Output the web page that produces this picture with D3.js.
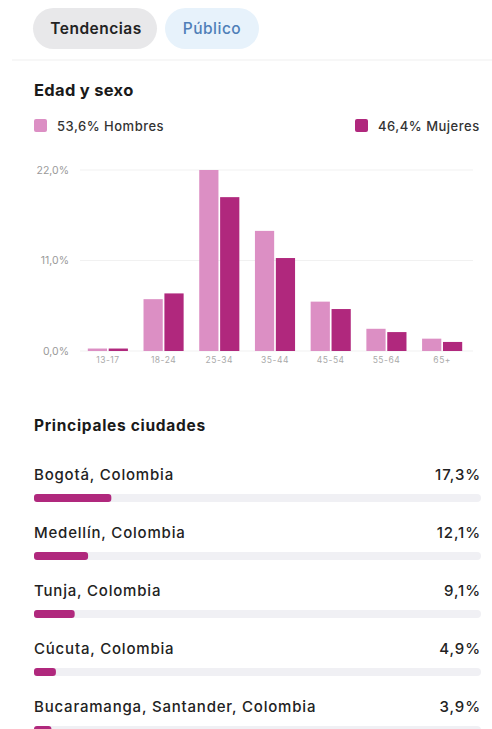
<!DOCTYPE html>
<html>
<head>
<meta charset="utf-8">
<script src="https://cdn.jsdelivr.net/npm/d3@7"></script>
<style>
  body { margin: 0; background: #fff; }
  text { font-family: Inter, "Noto Sans", sans-serif; }
</style>
</head>
<body>
<div id="page"></div>
<script>
// data
var ageGroups = ["13-17", "18-24", "25-34", "35-44", "45-54", "55-64", "65+"];
var hombres = [0.3, 6.3, 22.0, 14.6, 6.0, 2.7, 1.5];
var mujeres = [0.3, 7.0, 18.7, 11.3, 5.1, 2.3, 1.1];
var yTicks = [0, 11, 22];
var legendLabels = ["53,6% Hombres", "46,4% Mujeres"];
var cities = ["Bogotá, Colombia", "Medellín, Colombia", "Tunja, Colombia", "Cúcuta, Colombia", "Bucaramanga, Santander, Colombia"];
var cityShare = [17.3, 12.1, 9.1, 4.9, 3.9];
var tabs = ["Tendencias", "Público"];

var colH = "#dc8fc4", colM = "#b0287d";
var fmt = function(v) { return d3.format(".1f")(v).replace(".", ",") + "%"; };

var W = 492, H = 729;
var svg = d3.select("#page").append("svg").attr("width", W).attr("height", H);

// tabs
var tabG = svg.append("g");
tabG.append("rect").attr("x", 33).attr("y", 8).attr("width", 124).attr("height", 41).attr("rx", 20.5).attr("fill", "#e8e8ea");
tabG.append("text").attr("x", 96).attr("y", 34).attr("text-anchor", "middle").attr("letter-spacing", 0.5)
	.attr("font-size", 15.5).attr("font-weight", 600).attr("fill", "#222").text(tabs[0]);
tabG.append("rect").attr("x", 165).attr("y", 8).attr("width", 94).attr("height", 41).attr("rx", 20.5).attr("fill", "#e7f2fb");
tabG.append("text").attr("x", 212).attr("y", 34).attr("text-anchor", "middle").attr("letter-spacing", 0.5)
	.attr("font-size", 15.5).attr("font-weight", 500).attr("fill", "#4f7fb8").text(tabs[1]);
svg.append("line").attr("x1", 12).attr("x2", W).attr("y1", 60).attr("y2", 60).attr("stroke", "#efefef");

// title + legend
svg.append("text").attr("x", 34).attr("y", 96).attr("font-size", 16.5).attr("letter-spacing", 0.3)
	.attr("font-weight", 700).attr("fill", "#1a1a1a").text("Edad y sexo");
svg.append("rect").attr("x", 34).attr("y", 119).attr("width", 13).attr("height", 13).attr("rx", 2).attr("fill", colH);
svg.append("text").attr("x", 57).attr("y", 131).attr("font-size", 13).attr("letter-spacing", 0.5)
	.attr("font-weight", 500).attr("fill", "#333").text(legendLabels[0]);
svg.append("rect").attr("x", 355).attr("y", 119).attr("width", 13).attr("height", 13).attr("rx", 2).attr("fill", colM);
svg.append("text").attr("x", 378).attr("y", 131).attr("font-size", 13).attr("letter-spacing", 0.5)
	.attr("font-weight", 500).attr("fill", "#333").text(legendLabels[1]);

// bar chart
var x = d3.scaleBand().domain(ageGroups).range([80, 470]).paddingInner(0.28).paddingOuter(0.14);
var xs = d3.scaleBand().domain(["h", "m"]).range([0, x.bandwidth()]).paddingInner(0.08);
var y = d3.scaleLinear().domain([0, 22]).range([351, 170]);

var grid = svg.append("g");
grid.selectAll("line").data(yTicks).enter().append("line")
	.attr("x1", 80).attr("x2", 473)
	.attr("y1", function(d) { return y(d); }).attr("y2", function(d) { return y(d); })
	.attr("stroke", "#f1f1f1");

var yAxis = svg.append("g").attr("transform", "translate(69,0)")
	.call(d3.axisLeft(y).tickValues(yTicks).tickSize(0).tickPadding(0).tickFormat(fmt));
yAxis.select(".domain").remove();
yAxis.selectAll("text").attr("font-size", 10.5).attr("fill", "#9a9a9a").style("font-family", "Inter, sans-serif");

var xAxis = svg.append("g").attr("transform", "translate(0,354)")
	.call(d3.axisBottom(x).tickSize(0).tickPadding(3));
xAxis.select(".domain").remove();
xAxis.selectAll("text").attr("font-size", 8.5).attr("letter-spacing", 0.5).attr("fill", "#aaa").style("font-family", "Inter, sans-serif");

var groups = svg.append("g").selectAll("g").data(ageGroups).enter().append("g")
	.attr("transform", function(d) { return "translate(" + x(d) + ",0)"; });
groups.append("rect")
	.attr("x", xs("h")).attr("width", xs.bandwidth())
	.attr("y", function(d, i) { return y(hombres[i]); })
	.attr("height", function(d, i) { return y(0) - y(hombres[i]); })
	.attr("fill", colH);
groups.append("rect")
	.attr("x", xs("m")).attr("width", xs.bandwidth())
	.attr("y", function(d, i) { return y(mujeres[i]); })
	.attr("height", function(d, i) { return y(0) - y(mujeres[i]); })
	.attr("fill", colM);

// cities
svg.append("text").attr("x", 34).attr("y", 431).attr("font-size", 15.5).attr("letter-spacing", 0.7)
	.attr("font-weight", 700).attr("fill", "#1a1a1a").text("Principales ciudades");

var cx = d3.scaleLinear().domain([0, 100]).range([34, 481]);
var rowY = d3.scaleBand().domain(cities).range([480, 770]);

var rows = svg.append("g").selectAll("g").data(cities).enter().append("g")
	.attr("transform", function(d) { return "translate(0," + rowY(d) + ")"; });
rows.append("text").attr("x", 34).attr("y", 0).attr("font-size", 15).attr("letter-spacing", 0.8)
	.attr("font-weight", 500).attr("fill", "#222")
	.text(function(d) { return d; });
rows.append("text").attr("x", 481).attr("y", 0).attr("text-anchor", "end").attr("font-size", 15).attr("letter-spacing", 0.9)
	.attr("font-weight", 500).attr("fill", "#222")
	.text(function(d, i) { return fmt(cityShare[i]); });
rows.append("rect").attr("x", cx(0)).attr("y", 14).attr("height", 8).attr("rx", 4)
	.attr("width", cx(100) - cx(0)).attr("fill", "#f0f0f4");
rows.append("rect").attr("x", cx(0)).attr("y", 14).attr("height", 8).attr("rx", 3)
	.attr("width", function(d, i) { return cx(cityShare[i]) - cx(0); }).attr("fill", colM);
</script>
</body>
</html>
